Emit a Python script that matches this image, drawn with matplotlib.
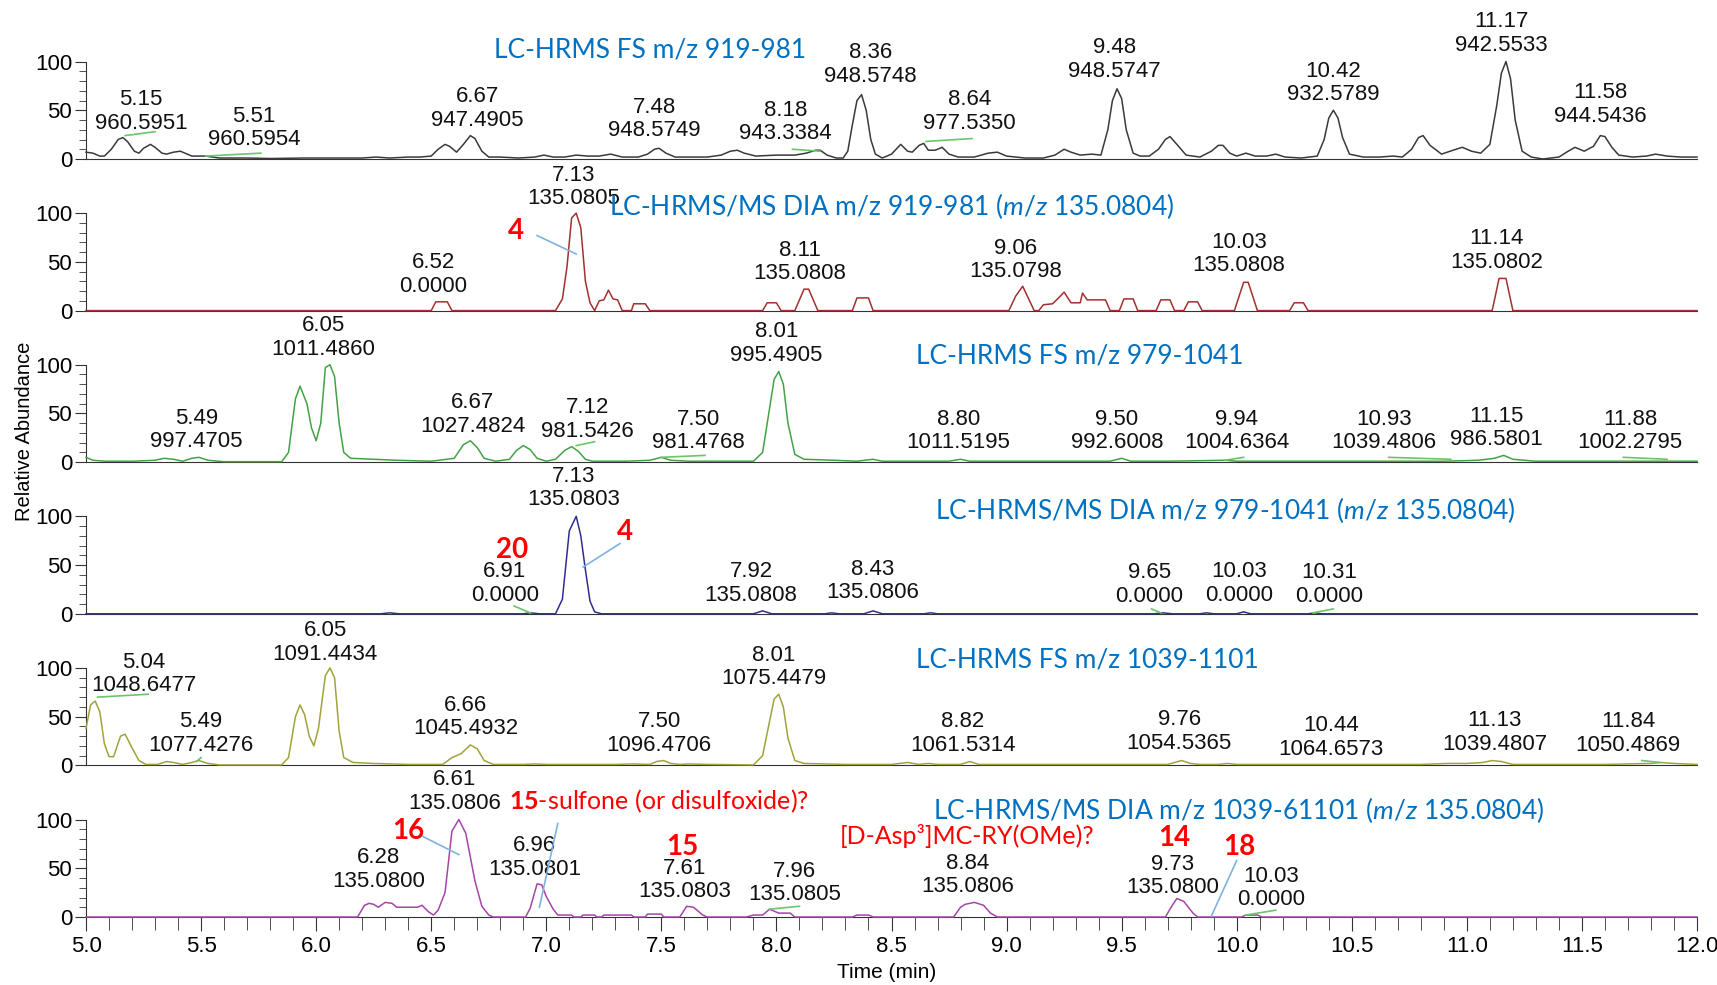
import matplotlib
matplotlib.use("Agg")
import matplotlib.pyplot as plt
from matplotlib.ticker import MultipleLocator, FormatStrFormatter

plt.rcParams['font.family'] = ['Liberation Sans', 'DejaVu Sans']
plt.rcParams['mathtext.fontset'] = 'custom'
plt.rcParams['mathtext.rm'] = 'Lato'
plt.rcParams['mathtext.it'] = 'Lato:italic'
plt.rcParams['mathtext.bf'] = 'Lato:bold'

# ---- traces (time in min, relative abundance) ----
t1 = [5.00, 5.03, 5.06, 5.08, 5.11, 5.14, 5.16, 5.18, 5.21, 5.23,
      5.25, 5.28, 5.30, 5.33, 5.35, 5.38, 5.41, 5.43, 5.46, 5.52,
      5.58, 5.70, 5.80, 5.95, 6.10, 6.20, 6.26, 6.32, 6.40, 6.45,
      6.50, 6.53, 6.56, 6.58, 6.61, 6.64, 6.67, 6.69, 6.72, 6.75,
      6.80, 6.88, 6.95, 6.99, 7.03, 7.08, 7.13, 7.18, 7.23, 7.28,
      7.33, 7.40, 7.44, 7.47, 7.49, 7.52, 7.56, 7.62, 7.70, 7.76,
      7.80, 7.83, 7.86, 7.91, 8.00, 8.08, 8.13, 8.17, 8.19, 8.22,
      8.26, 8.29, 8.31, 8.33, 8.35, 8.37, 8.39, 8.41, 8.43, 8.46,
      8.50, 8.54, 8.57, 8.59, 8.62, 8.64, 8.66, 8.69, 8.72, 8.75,
      8.79, 8.86, 8.92, 8.96, 9.00, 9.08, 9.16, 9.21, 9.25, 9.28,
      9.32, 9.37, 9.41, 9.44, 9.46, 9.48, 9.50, 9.52, 9.55, 9.58,
      9.62, 9.66, 9.69, 9.71, 9.74, 9.78, 9.84, 9.89, 9.92, 9.94,
      9.97, 10.00, 10.04, 10.08, 10.13, 10.17, 10.21, 10.28, 10.35, 10.38,
      10.40, 10.42, 10.44, 10.46, 10.49, 10.55, 10.62, 10.68, 10.72, 10.76,
      10.79, 10.81, 10.84, 10.89, 10.94, 10.98, 11.02, 11.06, 11.10, 11.13,
      11.15, 11.17, 11.19, 11.21, 11.24, 11.28, 11.33, 11.40, 11.44, 11.47,
      11.51, 11.55, 11.58, 11.60, 11.63, 11.66, 11.72, 11.78, 11.82, 11.87,
      11.93, 12.00]
a1 = [7, 6, 3, 3, 10, 20, 22, 18, 8, 6,
      11, 15, 12, 6, 5, 7, 8, 6, 3, 3,
      1, 1, 0.5, 1, 1, 1, 2, 1, 2, 2,
      3, 10, 15, 13, 7, 15, 24, 21, 8, 2,
      2, 1, 2, 4, 2, 2, 4, 3, 3, 5,
      2, 2, 5, 10, 11, 6, 2, 2, 2, 4,
      8, 9, 6, 3, 4, 4, 6, 9, 9, 4,
      1, 1, 8, 35, 60, 66, 50, 20, 5, 1,
      5, 15, 8, 7, 14, 16, 9, 9, 12, 5,
      2, 2, 6, 7, 3, 1, 1, 4, 10, 7,
      4, 5, 4, 30, 60, 72, 62, 30, 6, 3,
      3, 10, 20, 23, 15, 4, 2, 8, 14, 14,
      6, 3, 6, 3, 3, 5, 2, 1, 3, 20,
      42, 50, 42, 22, 5, 2, 2, 3, 2, 10,
      22, 24, 14, 5, 9, 12, 8, 6, 15, 55,
      88, 100, 82, 40, 8, 2, 0, 2, 8, 12,
      8, 13, 24, 23, 12, 4, 2, 3, 5, 3,
      2, 2]

t2 = [5.00, 6.50, 6.52, 6.57, 6.59, 7.04, 7.07, 7.09, 7.11, 7.13, 7.15, 7.17, 7.19, 7.21, 7.23,
      7.25, 7.27, 7.29, 7.31, 7.33, 7.37, 7.38, 7.43, 7.45, 7.94, 7.96, 8.00, 8.02, 8.08, 8.12,
      8.14, 8.18, 8.33, 8.35, 8.40, 8.42, 9.01, 9.04, 9.07, 9.10, 9.12, 9.14, 9.16, 9.20, 9.23,
      9.25, 9.28, 9.32, 9.33, 9.35, 9.43, 9.45, 9.49, 9.51, 9.55, 9.57, 9.65, 9.67, 9.71, 9.73,
      9.77, 9.79, 9.83, 9.85, 9.99, 10.03, 10.05, 10.09, 10.23, 10.25, 10.29, 10.31, 11.11, 11.14,
      11.17, 11.20, 12.00]
a2 = [0, 0, 9, 9, 0, 0, 12, 45, 95, 100, 85, 30, 8, 0, 10,
      11, 21, 12, 11, 0, 0, 7, 7, 0, 0, 8, 8, 0, 0, 22,
      22, 0, 0, 13, 13, 0, 0, 15, 25, 10, 0, 0, 6, 7, 14,
      19, 8, 8, 18, 11, 11, 0, 0, 12, 12, 0, 0, 11, 11, 0,
      0, 9, 9, 0, 0, 29, 29, 0, 0, 8, 8, 0, 0, 33,
      33, 0, 0]

t3 = [5.00, 5.03, 5.08, 5.20, 5.30, 5.34, 5.38, 5.42, 5.46, 5.49, 5.53, 5.60, 5.85, 5.88, 5.91,
      5.93, 5.96, 5.98, 6.00, 6.02, 6.04, 6.06, 6.08, 6.10, 6.12, 6.15, 6.25, 6.35, 6.50, 6.60,
      6.64, 6.67, 6.70, 6.73, 6.78, 6.84, 6.87, 6.90, 6.93, 6.96, 7.00, 7.04, 7.08, 7.11, 7.14,
      7.17, 7.20, 7.35, 7.45, 7.50, 7.54, 7.62, 7.70, 7.80, 7.90, 7.94, 7.97, 7.99, 8.01, 8.03,
      8.05, 8.08, 8.12, 8.25, 8.35, 8.42, 8.46, 8.60, 8.75, 8.80, 8.84, 9.00, 9.30, 9.45, 9.50,
      9.54, 9.70, 9.95, 10.00, 10.50, 10.90, 11.05, 11.12, 11.16, 11.20, 11.30, 11.60, 12.00]
a3 = [5, 2, 1, 1, 2, 4, 3, 1, 4, 5, 2, 0.5, 0.5, 10, 65,
      78, 60, 35, 22, 40, 97, 100, 88, 40, 10, 4, 3, 2, 1, 4,
      18, 22, 15, 4, 1, 3, 12, 17, 13, 4, 1, 3, 12, 16, 11,
      3, 1, 1, 2, 5, 2, 1, 1, 1, 1, 10, 55, 85, 93, 80,
      40, 8, 3, 2, 1, 3, 1, 1, 1, 3, 1, 1, 1, 1, 4,
      1, 1, 2, 1, 1, 1, 2, 4, 7, 3, 1, 1, 1]

t4 = [5.00, 6.28, 6.32, 6.36, 6.90, 6.93, 6.97, 7.04, 7.07, 7.10, 7.13, 7.15, 7.17, 7.19, 7.21,
      7.24, 7.90, 7.94, 7.98, 8.21, 8.24, 8.27, 8.38, 8.42, 8.46, 8.64, 8.67, 8.70, 9.64, 9.68,
      9.72, 9.84, 9.87, 9.90, 10.00, 10.03, 10.06, 10.31, 10.34, 10.37, 12.00]
a4 = [0, 0, 1, 0, 0, 1, 0, 0, 15, 85, 100, 80, 45, 13, 2,
      0, 0, 3, 0, 0, 1, 0, 0, 3, 0, 0, 1, 0, 0, 1,
      0, 0, 1, 0, 0, 2, 0, 0, 1, 0, 0]

t5 = [5.00, 5.02, 5.04, 5.06, 5.08, 5.10, 5.12, 5.15, 5.17, 5.20, 5.23, 5.26, 5.31, 5.35, 5.38,
      5.42, 5.46, 5.49, 5.53, 5.58, 5.85, 5.88, 5.91, 5.93, 5.95, 5.97, 5.99, 6.01, 6.04, 6.06,
      6.08, 6.10, 6.12, 6.16, 6.25, 6.40, 6.55, 6.59, 6.63, 6.67, 6.70, 6.73, 6.77, 6.90, 6.95,
      7.00, 7.30, 7.38, 7.45, 7.48, 7.51, 7.54, 7.58, 7.62, 7.70, 7.90, 7.94, 7.97, 7.99, 8.01,
      8.03, 8.05, 8.08, 8.12, 8.30, 8.50, 8.57, 8.62, 8.66, 8.70, 8.80, 8.84, 8.88, 9.00, 9.40,
      9.70, 9.73, 9.76, 9.80, 9.84, 9.92, 9.96, 10.00, 10.80, 10.92, 11.00, 11.07, 11.11, 11.15,
      11.20, 11.60, 11.80, 11.84, 11.90, 12.00]
a5 = [38, 62, 66, 55, 22, 9, 9, 30, 32, 18, 5, 1, 1, 4, 3,
      1, 3, 5, 2, 0.5, 0.5, 8, 50, 62, 52, 30, 20, 38, 92, 100,
      90, 35, 8, 3, 2, 1, 1, 8, 12, 21, 17, 5, 1, 1, 1.5,
      1, 1, 1.5, 1, 4, 5, 2, 1, 1.5, 1, 0.5, 10, 45, 68, 73,
      60, 28, 5, 2, 1, 1, 3, 1, 2, 1, 1, 4, 1, 1, 1,
      1, 3, 5, 2, 1, 1, 2, 1, 1, 2, 2, 3, 5, 4,
      1, 1, 2, 3, 2, 1]

t6 = [5.00, 6.18, 6.21, 6.23, 6.25, 6.27, 6.30, 6.33, 6.35, 6.40, 6.44, 6.46, 6.49, 6.51, 6.53,
      6.56, 6.59, 6.62, 6.65, 6.69, 6.72, 6.75, 6.77, 6.91, 6.93, 6.96, 6.98, 7.00, 7.03, 7.05,
      7.11, 7.12, 7.15, 7.16, 7.21, 7.22, 7.24, 7.25, 7.37, 7.38, 7.43, 7.44, 7.50, 7.51, 7.58,
      7.61, 7.64, 7.68, 7.70, 7.87, 7.90, 7.94, 7.97, 8.01, 8.06, 8.08, 8.33, 8.35, 8.40, 8.42,
      8.77, 8.80, 8.82, 8.86, 8.90, 8.93, 8.96, 9.69, 9.72, 9.74, 9.77, 9.81, 9.83, 10.02, 10.04,
      10.09, 10.11, 12.00]
a6 = [0, 0, 12, 14, 13, 10, 15, 14, 10, 10, 10, 12, 5, 2, 7,
      25, 88, 100, 86, 37, 11, 2, 0, 0, 9, 34, 33, 21, 8, 2,
      2, 0, 0, 2, 2, 0, 0, 2, 2, 0, 0, 3, 3, 0, 0,
      11, 10, 2, 0, 0, 2, 2, 8, 4, 4, 0, 0, 2, 2, 0,
      0, 10, 13, 15, 12, 4, 0, 0, 12, 19, 16, 4, 0, 0, 2,
      2, 0, 0]

# ---- peak annotations: retention time and m/z ----
rt1 = [5.15, 5.51, 6.67, 7.48, 8.18, 8.36, 8.64, 9.48, 10.42, 11.17, 11.58]
mz1 = [960.5951, 960.5954, 947.4905, 948.5749, 943.3384, 948.5748, 977.5350, 948.5747,
       932.5789, 942.5533, 944.5436]
rt2 = [6.52, 7.13, 8.11, 9.06, 10.03, 11.14]
mz2 = [0.0, 135.0805, 135.0808, 135.0798, 135.0808, 135.0802]
rt3 = [5.49, 6.05, 6.67, 7.12, 7.50, 8.01, 8.80, 9.50, 9.94, 10.93, 11.15, 11.88]
mz3 = [997.4705, 1011.4860, 1027.4824, 981.5426, 981.4768, 995.4905, 1011.5195, 992.6008,
       1004.6364, 1039.4806, 986.5801, 1002.2795]
rt4 = [7.13, 6.91, 7.92, 8.43, 9.65, 10.03, 10.31]
mz4 = [135.0803, 0.0, 135.0808, 135.0806, 0.0, 0.0, 0.0]
rt5 = [5.04, 6.05, 5.49, 6.66, 7.50, 8.01, 8.82, 9.76, 10.44, 11.13, 11.84]
mz5 = [1048.6477, 1091.4434, 1077.4276, 1045.4932, 1096.4706, 1075.4479, 1061.5314,
       1054.5365, 1064.6573, 1039.4807, 1050.4869]
rt6 = [6.28, 6.61, 6.96, 7.61, 7.96, 8.84, 9.73, 10.03]
mz6 = [135.0800, 135.0806, 135.0801, 135.0803, 135.0805, 135.0806, 135.0800, 0.0]

titles = ["LC-HRMS FS m/z 919-981",
          r"LC-HRMS/MS DIA m/z 919-981 ($m/z$ 135.0804)",
          "LC-HRMS FS m/z 979-1041",
          r"LC-HRMS/MS DIA m/z 979-1041 ($m/z$ 135.0804)",
          "LC-HRMS FS m/z 1039-1101",
          r"LC-HRMS/MS DIA m/z 1039-61101 ($m/z$ 135.0804)"]

# ---- layout of the annotations (x in min, y in % of panel) ----
lx1 = [5.24, 5.73, 6.70, 7.47, 8.04, 8.41, 8.84, 9.47, 10.42, 11.15, 11.58]
ly1 = [26, 9, 29, 18, 15, 74, 26, 79, 55, 106, 33]
lx2 = [6.51, 7.12, 8.10, 9.04, 10.01, 11.13]
ly2 = [14, 104, 27, 29, 35, 39]
lx3 = [5.48, 6.03, 6.68, 7.18, 7.66, 8.00, 8.79, 9.48, 10.00, 10.64, 11.13, 11.71]
ly3 = [10, 105, 26, 21, 9, 99, 9, 9, 9, 9, 12, 9]
lx4 = [7.12, 6.82, 7.89, 8.42, 9.62, 10.01, 10.40]
ly4 = [106, 8, 8, 11, 7, 8, 7]
lx5 = [5.25, 6.04, 5.50, 6.65, 7.49, 7.99, 8.81, 9.75, 10.41, 11.12, 11.70]
ly5 = [71, 103, 10, 27, 10, 78, 10, 12, 6, 11, 10]
lx6 = [6.27, 6.60, 6.95, 7.60, 8.08, 8.83, 9.72, 10.15]
ly6 = [26, 106, 38, 15, 12, 20, 19, 7]
title_x = [7.45, 8.50, 9.32, 9.95, 9.35, 10.01]
title_y = [112, 107, 109, 106, 108, 110]

green_leaders = [
    [((5.17, 24), (5.30, 28)), ((5.52, 3), (5.76, 6)), ((8.07, 10), (8.19, 8)),
     ((8.65, 18), (8.85, 21))],
    [],
    [((7.13, 17), (7.21, 21)), ((7.50, 5), (7.69, 7)), ((9.95, 2), (10.03, 5)),
     ((10.66, 5), (10.93, 3)), ((11.68, 5), (11.87, 3))],
    [((6.86, 8), (6.93, 1)), ((9.63, 5), (9.67, 1)), ((10.33, 1), (10.42, 5))],
    [((5.05, 70), (5.27, 73)), ((5.48, 4), (5.50, 8)), ((11.76, 5), (11.84, 3))],
    [((7.97, 8), (8.10, 11)), ((10.04, 2), (10.17, 7))],
]
blue_leaders = [
    [],
    [((6.96, 77), (7.13, 58))],
    [],
    [((7.32, 72), (7.16, 48))],
    [],
    [((6.46, 83), (6.62, 64)), ((7.05, 96), (6.97, 10)), ((10.00, 58), (9.89, 1))],
]
red_labels = [
    [],
    [(6.87, 82, "4")],
    [],
    [(6.85, 65, "20"), (7.34, 84, "4")],
    [],
    [(6.40, 88, "16"), (7.59, 72, "15"), (9.73, 81, "14"), (10.01, 72, "18")],
]

traces = [(t1, a1), (t2, a2), (t3, a3), (t4, a4), (t5, a5), (t6, a6)]
peaks = [(rt1, mz1), (rt2, mz2), (rt3, mz3), (rt4, mz4), (rt5, mz5), (rt6, mz6)]
label_pos = [(lx1, ly1), (lx2, ly2), (lx3, ly3), (lx4, ly4), (lx5, ly5), (lx6, ly6)]
colors = ['#3a3a3a', '#a3302f', '#44a244', '#2e2e8e', '#a2a23c', '#a446a8']

fig = plt.figure(figsize=(17.17, 9.85), dpi=100)
W, H = 1717, 985
axes = []
for i in range(6):
    base = 159 + 151.6 * i
    ax = fig.add_axes([86 / W, 1 - base / H, 1611 / W, 97.5 / H])
    ax.patch.set_visible(False)
    t, a = traces[i]
    ax.plot(t, a, color=colors[i], lw=1.1, clip_on=False, zorder=3)
    ax.set_xlim(5, 12)
    ax.set_ylim(0, 100)
    for s in ['top', 'right']:
        ax.spines[s].set_visible(False)
    ax.spines['left'].set_color('#333333')
    ax.spines['bottom'].set_color('#333333')
    ax.set_yticks([0, 50, 100])
    ax.yaxis.set_minor_locator(MultipleLocator(10))
    ax.tick_params(axis='y', which='major', length=8, labelsize=16, color='#333333', pad=2)
    ax.tick_params(axis='y', which='minor', length=5, color='#333333')
    if i < 5:
        ax.tick_params(axis='x', which='both', bottom=False, labelbottom=False)
    else:
        ax.xaxis.set_major_locator(MultipleLocator(0.5))
        ax.xaxis.set_minor_locator(MultipleLocator(0.1))
        ax.xaxis.set_major_formatter(FormatStrFormatter('%.1f'))
        ax.tick_params(axis='x', which='major', length=10, labelsize=16, color='#333333', pad=4)
        ax.tick_params(axis='x', which='minor', length=9, color='#333333')

    rts, mzs = peaks[i]
    lxs, lys = label_pos[i]
    for rt, mz, lx, ly in zip(rts, mzs, lxs, lys):
        ax.text(lx, ly, f"{rt:.2f}\n{mz:.4f}", ha='center', va='bottom', fontsize=16,
                linespacing=1.16, color='#111111', clip_on=False, zorder=4)
    ax.text(title_x[i], title_y[i], titles[i], ha='center', va='center', fontsize=19,
            family='Lato', color='#0070c0', clip_on=False, zorder=4)
    for (x0, y0), (x1, y1) in green_leaders[i]:
        ax.plot([x0, x1], [y0, y1], color='#6cc46c', lw=1.2, clip_on=False, zorder=4)
    for (x0, y0), (x1, y1) in blue_leaders[i]:
        ax.plot([x0, x1], [y0, y1], color='#7fb2e0', lw=1.2, clip_on=False, zorder=4)
    for x, y, s in red_labels[i]:
        ax.text(x, y, s, ha='center', va='center', fontsize=20, family='Lato',
                weight='bold', color='#ff0000', clip_on=False, zorder=5)
    axes.append(ax)

axes[5].text(6.84, 119, r"$\mathbf{15}$-sulfone (or disulfoxide)?", ha='left', va='center',
             fontsize=18, family='Lato', color='#ff0000', clip_on=False)
axes[5].text(8.83, 83, "[D-Asp³]MC-RY(OMe)?", ha='center', va='center',
             fontsize=18, family='Lato', color='#ff0000', clip_on=False)

fig.text(24 / W, 1 - 431 / H, "Relative Abundance", rotation=90, ha='center', va='center',
         fontsize=14.5)
fig.text(887 / W, 1 - 972 / H, "Time (min)", ha='center', va='center', fontsize=15)

fig.savefig("out.png", dpi=100)
